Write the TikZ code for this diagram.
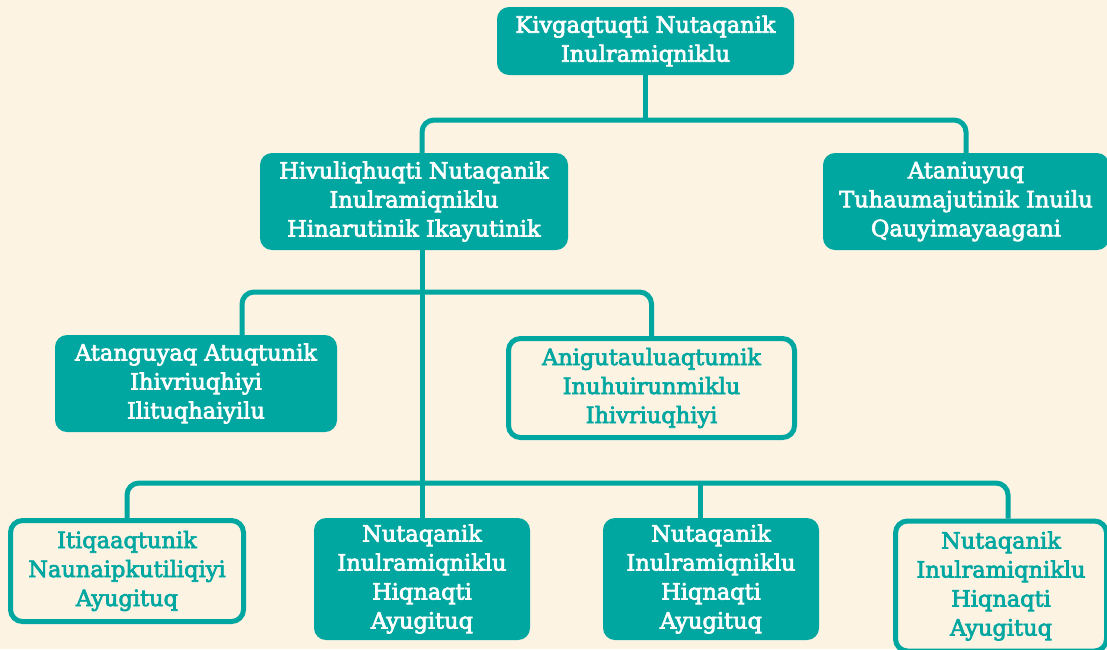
\documentclass[tikz,border=0pt]{standalone}
\usepackage{fontspec}
\setmainfont{DejaVu Serif}[FakeBold=3]
\usetikzlibrary{shapes.geometric, arrows}
\definecolor{boxteal}{RGB}{0,167,160}
\definecolor{cream}{RGB}{253,243,227}
\tikzstyle{filled} = [rectangle, rounded corners=12pt, inner sep=0pt, align=center, fill=boxteal, text=white, font=\fontsize{22.5}{29}\selectfont]
\tikzstyle{outlined} = [rectangle, rounded corners=12pt, inner sep=0pt, align=center, draw=boxteal, line width=5pt, fill=cream, text=boxteal, font=\fontsize{22.5}{29}\selectfont]
\tikzstyle{link} = [draw=boxteal, line width=5pt, rounded corners=12pt]

\begin{document}
\begin{tikzpicture}[x=1pt, y=-1pt]

\useasboundingbox (0,0) rectangle (1107,649);
\fill [cream] (0,0) rectangle (1107,649);
\clip (0,0) rectangle (1107,649);

\node (kivgaqtuqti) [filled, minimum width=297pt, minimum height=68pt] at (645.5,41) {Kivgaqtuqti Nutaqanik\\Inulramiqniklu};
\node (hivuliqhuqti) [filled, minimum width=308pt, minimum height=97pt] at (414,201.5) {Hivuliqhuqti Nutaqanik\\Inulramiqniklu\\Hinarutinik Ikayutinik};
\node (ataniuyuq) [filled, minimum width=286pt, minimum height=97pt] at (966,201.5) {Ataniuyuq\\Tuhaumajutinik Inuilu\\Qauyimayaagani};
\node (atanguyaq) [filled, minimum width=282pt, minimum height=97pt] at (196,383.5) {Atanguyaq Atuqtunik\\Ihivriuqhiyi\\Ilituqhaiyilu};
\node (anigutauluaqtumik) [outlined, minimum width=286pt, minimum height=99pt] at (651.5,388) {Anigutauluaqtumik\\Inuhuirunmiklu\\Ihivriuqhiyi};
\node (itiqaaqtunik) [outlined, minimum width=233pt, minimum height=101pt] at (127,571) {Itiqaaqtunik\\Naunaipkutiliqiyi\\Ayugituq};
\node (nutaqanikA) [filled, minimum width=216pt, minimum height=122pt] at (422,579) {Nutaqanik\\Inulramiqniklu\\Hiqnaqti\\Ayugituq};
\node (nutaqanikB) [filled, minimum width=216pt, minimum height=122pt] at (711,579) {Nutaqanik\\Inulramiqniklu\\Hiqnaqti\\Ayugituq};
\node (nutaqanikC) [outlined, minimum width=211pt, minimum height=130pt] at (1001,586) {Nutaqanik\\Inulramiqniklu\\Hiqnaqti\\Ayugituq};

\coordinate (topbus) at (645.5,120);
\coordinate (midbus) at (422,292);
\coordinate (lowbus) at (422,483);

\draw [link] (kivgaqtuqti) -- (topbus);
\draw [link] (hivuliqhuqti.north -| nutaqanikA) |- (topbus) -| (ataniuyuq);
\draw [link] (hivuliqhuqti.south -| nutaqanikA) -- (nutaqanikA);
\draw [link] ([xshift=46pt]atanguyaq.north) |- (midbus) -| (anigutauluaqtumik);
\draw [link] (itiqaaqtunik) |- (lowbus) -| ([xshift=7pt]nutaqanikC.north);
\draw [link] ([xshift=-11pt]nutaqanikB.north) -- ([xshift=-11pt]nutaqanikB.north |- lowbus);

\end{tikzpicture}
\end{document}
